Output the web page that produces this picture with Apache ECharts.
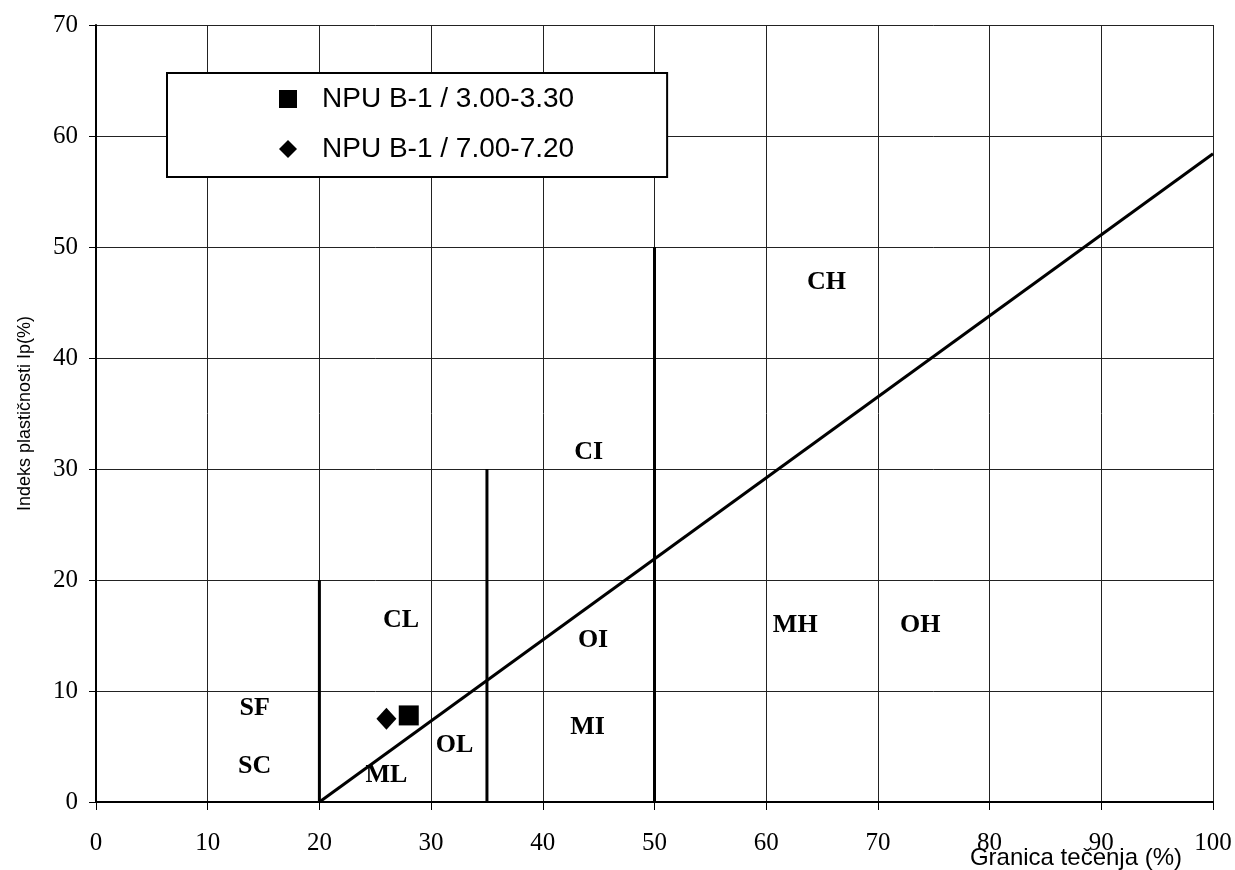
<!DOCTYPE html>
<html>
<head>
<meta charset="utf-8">
<script src="https://cdn.jsdelivr.net/npm/echarts@6/dist/echarts.min.js"></script>
<style>html,body{margin:0;padding:0;background:#fff}#c{width:1235px;height:870px}</style>
</head>
<body>
<div id="c"></div>
<script>
// Data
const xTicks = [0,10,20,30,40,50,60,70,80,90,100];
const yTicks = [0,10,20,30,40,50,60,70];
const aLine = [[20,0],[100,58.4]];
const vLine20 = [[20,0],[20,20]];
const vLine35 = [[35,0],[35,30]];
const vLine50 = [[50,0],[50,50]];
const sample1Name = 'NPU B-1 / 3.00-3.30';
const sample1 = [[28,7.8]];
const sample2Name = 'NPU B-1 / 7.00-7.20';
const sample2 = [[26,7.5]];
const zoneLabels = [
  ['SF',14.2,8.4],['SC',14.2,3.2],['ML',26.0,2.4],['OL',32.1,5.1],
  ['CL',27.3,16.4],['MI',44.0,6.7],['OI',44.5,14.6],['CI',44.1,31.5],
  ['CH',65.4,46.8],['MH',62.6,15.9],['OH',73.8,15.9]
];

const serif = 'Liberation Serif, Times New Roman, serif';
const sans = 'Liberation Sans, Arial, sans-serif';
const chart = echarts.init(document.getElementById('c'));
const thick = {color:'#000', width:3};
const lineSeries = (d) => ({type:'line', data:d, symbol:'none', lineStyle:thick, silent:true, z:3, animation:false});
chart.setOption({
  animation:false,
  grid:{left:96, right:22, top:25, bottom:68, outerBoundsMode:'none', containLabel:false},
  legend:{
    orient:'vertical', left:167, top:73,
    backgroundColor:'#fff', borderColor:'#000', borderWidth:2,
    padding:[12,93,14,112], itemGap:22, itemWidth:18, itemHeight:18,
    textStyle:{fontFamily:sans, fontSize:28, color:'#000', padding:[0,0,0,20]},
    data:[{name:sample1Name, icon:'rect'},{name:sample2Name, icon:'diamond'}]
  },
  xAxis:{
    type:'value', min:0, max:100, interval:10,
    name:'Granica tečenja (%)', nameLocation:'end', nameGap:-31, nameMoveOverlap:false,
    nameTextStyle:{fontFamily:sans, fontSize:24, color:'#000', align:'right', verticalAlign:'top', padding:[44,0,0,0]},
    axisLine:{lineStyle:{color:'#000', width:2}},
    axisTick:{show:true, length:8, lineStyle:{color:'#000', width:1}},
    axisLabel:{fontFamily:serif, fontSize:25, color:'#000', margin:29},
    splitLine:{show:true, lineStyle:{color:'#222', width:1}}
  },
  yAxis:{
    type:'value', min:0, max:70, interval:10,
    name:'Indeks plastičnosti Ip(%)', nameLocation:'middle', nameGap:62,
    nameTextStyle:{fontFamily:sans, fontSize:18, color:'#000'},
    axisLine:{show:true, lineStyle:{color:'#000', width:2}},
    axisTick:{show:true, length:7, lineStyle:{color:'#000', width:1}},
    axisLabel:{fontFamily:serif, fontSize:25, color:'#000', margin:18},
    splitLine:{show:true, lineStyle:{color:'#222', width:1}}
  },
  series:[
    lineSeries(aLine), lineSeries(vLine20), lineSeries(vLine35), lineSeries(vLine50),
    {type:'scatter', name:'zones', data:zoneLabels.map(z=>({value:[z[1],z[2]], name:z[0]})),
     symbolSize:0, silent:true, z:4, itemStyle:{opacity:1},
     label:{show:true, position:'inside', formatter:p=>p.name, fontFamily:serif, fontWeight:'bold', fontSize:26, color:'#000'}},
    {type:'scatter', name:sample1Name, data:sample1, symbol:'rect', symbolSize:20, itemStyle:{color:'#000', opacity:1}, z:5},
    {type:'scatter', name:sample2Name, data:sample2, symbol:'diamond', symbolSize:[20,22], itemStyle:{color:'#000', opacity:1}, z:5}
  ]
});
</script>
</body>
</html>
